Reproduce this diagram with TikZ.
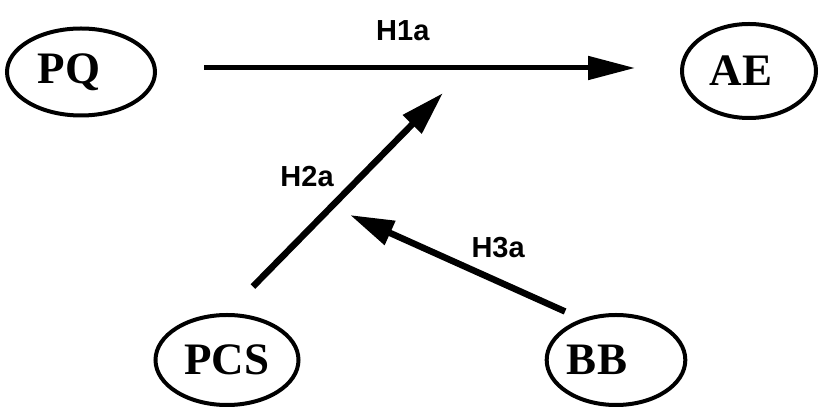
\documentclass[tikz,border=0pt]{standalone}
\usepackage{fontspec}
\setmainfont{Liberation Serif}
\setsansfont{Liberation Sans}
\usetikzlibrary{shapes.geometric,arrows.meta}

\begin{document}
\begin{tikzpicture}[x=1pt,y=1pt,
    var/.style={draw, ellipse, line width=4pt, inner sep=0pt, font=\fontsize{45}{45}\selectfont\bfseries},
    hyp/.style={line width=6.5pt, -{Triangle[length=44pt,width=25pt]}},
    hyplabel/.style={inner sep=0pt, font=\fontsize{29}{29}\selectfont\sffamily\bfseries}]
    \useasboundingbox (0,0) rectangle (820,409);
    % the names sit a little left of centre in their ellipses
    \node[var, minimum width=148pt, minimum height=87pt] (PQ) at (81,337) {PQ\kern24pt};
    \node[var, minimum width=134pt, minimum height=94pt] (AE) at (749,338) {AE\kern16pt};
    \node[var, minimum width=143pt, minimum height=90pt] (PCS) at (227,49) {PCS};
    \node[var, minimum width=138pt, minimum height=90pt] (BB) at (616,49) {BB\kern38pt};
    \coordinate (h2tip) at (443,316); % ends under H1a
    \coordinate (h3tip) at (350,194); % ends on H2a
    \draw[hyp, line width=5pt, -{Triangle[length=47pt,width=23pt]}, shorten <=47pt, shorten >=45pt]
        ([yshift=4]PQ.east) -- node[hyplabel, pos=0.47, above=25pt] {H1a} ([yshift=3]AE.west); % H1a
    \draw[hyp, shorten <=37pt] (PCS.north) -- node[hyplabel, pos=0.62, left=24pt] {H2a} (h2tip); % H2a
    \draw[hyp, shorten <=18pt] (BB.130) -- node[hyplabel, pos=0.36, above=20pt] {H3a} (h3tip); % H3a
\end{tikzpicture}
\end{document}
